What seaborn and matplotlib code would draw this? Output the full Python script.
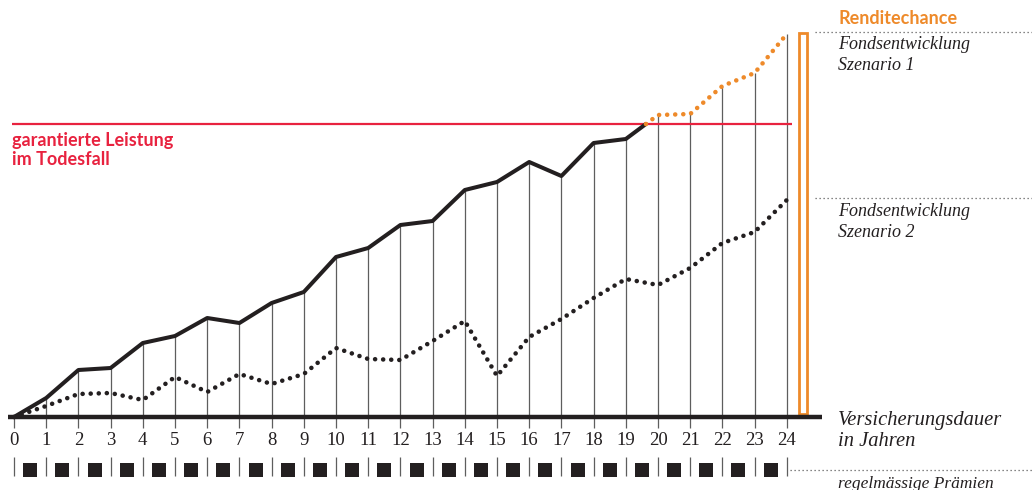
import numpy as np
import pandas as pd
import matplotlib
matplotlib.use("Agg")
import matplotlib.pyplot as plt
import seaborn as sns

# ---- data ----
years = list(range(25))
tick_labels = [str(y) for y in years]
scenario1 = [0, 19, 47, 49, 74, 81, 99, 94, 114, 125, 160, 169, 192, 196, 227,
             235, 255, 241, 274, 278, 302, 303, 331, 344, 383]
scenario2 = [0, 11, 23, 24, 17, 40, 25, 43, 33, 43, 69, 58, 57, 76, 96,
             41, 80, 98, 119, 138, 132, 149, 174, 185, 217]
guarantee = 293

label_guarantee = "garantierte Leistung\nim Todesfall"
label_chance = "Renditechance"
label_s1 = "Fondsentwicklung\nSzenario 1"
label_s2 = "Fondsentwicklung\nSzenario 2"
label_axis = "Versicherungsdauer\nin Jahren"
label_premium = "regelmässige Prämien"

RED = "#e8223f"
ORANGE = "#ee8a2a"
BLACK = "#231f20"
GREY = "#5e5e5e"

sns.set_theme(style="white")
plt.rcParams["font.family"] = ["Liberation Serif", "DejaVu Serif"]

fig = plt.figure(figsize=(10.32, 4.90), dpi=100)
ax = fig.add_axes([0, 0, 1, 1])
ax.set_xlim(-0.435, 31.615)
ax.set_ylim(-73, 417)
ax.axis("off")

yrs = np.array(years, dtype=float)
s1 = np.array(scenario1, dtype=float)
s2 = np.array(scenario2, dtype=float)

# crossing point of scenario 1 with guarantee line
i = int(np.argmax(s1 > guarantee))
xc = yrs[i - 1] + (guarantee - s1[i - 1]) / (s1[i] - s1[i - 1])

# vertical year lines (incl. ticks below baseline)
ax.vlines(yrs, -11, s1, color=GREY, lw=0.9, zorder=1)
# premium row separators
ax.vlines(yrs, -40, -59, color=GREY, lw=0.9, zorder=1)
# premium squares
ax.scatter(yrs[:-1] + 0.5, np.full(len(yrs) - 1, -53), marker="s", s=95,
           color=BLACK, linewidths=0, zorder=3)

# baseline
ax.hlines(0, yrs[0] - 0.2, yrs[-1] + 1.1, color=BLACK, lw=3.2, zorder=4)

# guarantee line
ax.hlines(guarantee, yrs[0] - 0.05, yrs[-1] + 0.15, color=RED, lw=1.6, zorder=2)

# scenario 1: solid until it reaches the guarantee, then orange dotted
df_solid = pd.DataFrame({"x": list(yrs[:i]) + [xc], "y": list(s1[:i]) + [guarantee]})
df_orange = pd.DataFrame({"x": [xc] + list(yrs[i:]), "y": [guarantee] + list(s1[i:])})
df_s2 = pd.DataFrame({"x": yrs, "y": s2})

sns.lineplot(data=df_solid, x="x", y="y", ax=ax, color=BLACK, linewidth=2.9,
             sort=False, zorder=5)
sns.lineplot(data=df_orange, x="x", y="y", ax=ax, color=ORANGE, linewidth=3.3,
             linestyle=(0, (0.01, 1.75)), dash_capstyle="round", sort=False, zorder=5)
sns.lineplot(data=df_s2, x="x", y="y", ax=ax, color=BLACK, linewidth=3.3,
             linestyle=(0, (0.01, 1.75)), dash_capstyle="round", sort=False, zorder=5)

# orange "Renditechance" bar
ax.bar([yrs[-1] + 0.5], [s1[-1] - 2], bottom=3, width=0.27, fill=False,
       edgecolor=ORANGE, linewidth=2.0, zorder=3)

# reference dotted lines on the right
ax.plot([yrs[-1] + 0.88, 31.7], [s1[-1] + 2] * 2, color=GREY, lw=0.9,
        linestyle=(0, (1, 2.2)))
ax.plot([yrs[-1] + 0.88, 31.7], [s2[-1] + 2] * 2, color=GREY, lw=0.9,
        linestyle=(0, (1, 2.2)))
ax.plot([yrs[-1] + 0.1, 31.7], [-53, -53], color=GREY, lw=0.9,
        linestyle=(0, (1, 2.2)))

# tick labels
for x, lab in zip(yrs, tick_labels):
    ax.text(x, -23, lab, ha="center", va="center", fontsize=13.5, color=BLACK)

tx = yrs[-1] + 1.6
ax.text(-0.06, 267, label_guarantee, ha="left", va="center", fontsize=13,
        color=RED, fontweight="bold", family=["Lato", "DejaVu Sans"], linespacing=1.2)
ax.text(tx, 398, label_chance, ha="left", va="center", fontsize=13,
        color=ORANGE, fontweight="bold", family=["Lato", "DejaVu Sans"])
ax.text(tx, 362, label_s1, ha="left", va="center", fontsize=13,
        color=BLACK, style="italic", linespacing=1.3)
ax.text(tx, 195, label_s2, ha="left", va="center", fontsize=13,
        color=BLACK, style="italic", linespacing=1.3)
ax.text(tx, -14, label_axis, ha="left", va="center", fontsize=14.8,
        color=BLACK, style="italic", linespacing=1.2)
ax.text(tx, -67, label_premium, ha="left", va="center", fontsize=12.5,
        color=BLACK, style="italic")

fig.savefig("out.png", dpi=100)
